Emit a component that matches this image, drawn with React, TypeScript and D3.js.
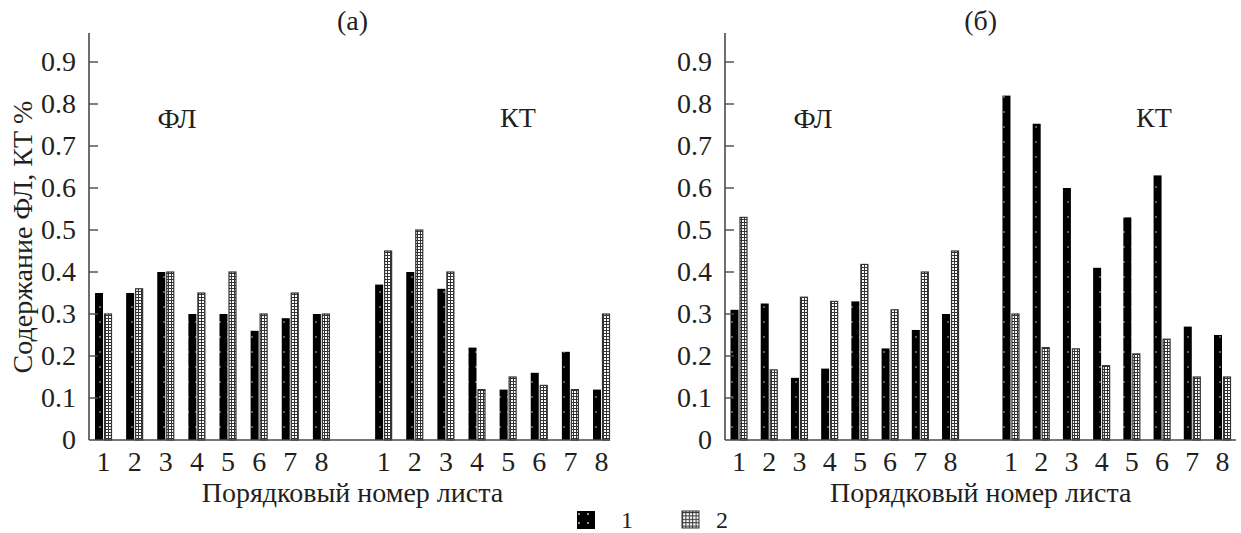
import React from "react";
import { scaleLinear, scalePoint } from "d3";

// leaf numbers along the x axis, repeated for the two substances
const leaves = ["1", "2", "3", "4", "5", "6", "7", "8"];
const yTicks = [0, 0.1, 0.2, 0.3, 0.4, 0.5, 0.6, 0.7, 0.8, 0.9];

// panel (а)
const aFL1 = [0.35, 0.35, 0.4, 0.3, 0.3, 0.26, 0.29, 0.3];
const aFL2 = [0.3, 0.36, 0.4, 0.35, 0.4, 0.3, 0.35, 0.3];
const aKT1 = [0.37, 0.4, 0.36, 0.22, 0.12, 0.16, 0.21, 0.12];
const aKT2 = [0.45, 0.5, 0.4, 0.12, 0.15, 0.13, 0.12, 0.3];

// panel (б)
const bFL1 = [0.31, 0.325, 0.148, 0.17, 0.33, 0.218, 0.262, 0.3];
const bFL2 = [0.53, 0.167, 0.34, 0.33, 0.418, 0.31, 0.4, 0.45];
const bKT1 = [0.82, 0.753, 0.6, 0.41, 0.53, 0.63, 0.27, 0.25];
const bKT2 = [0.3, 0.22, 0.217, 0.177, 0.205, 0.24, 0.15, 0.15];

const FONT = "'Liberation Serif', 'Times New Roman', serif";
const INK = "#231f20";
const AXIS = "#4a4a4a";
const FS = 28;

const slots = [...leaves.map((l) => "ФЛ" + l), "gap", ...leaves.map((l) => "КТ" + l)];

function Panel({ x0, first, last, axisEnd, title, fl1, fl2, kt1, kt2 }) {
  const x = scalePoint().domain(slots).range([first, last]);
  const y = scaleLinear().domain([0, 0.9]).range([440, 62]);
  const bw = 8;
  const rows = [
    ...leaves.map((l, i) => ({ key: "ФЛ" + l, label: l, v1: fl1[i], v2: fl2[i] })),
    ...leaves.map((l, i) => ({ key: "КТ" + l, label: l, v1: kt1[i], v2: kt2[i] })),
  ];
  const mid = (first + last) / 2;
  return (
    <g>
      {rows.map((r) => {
        const cx = x(r.key);
        return (
          <g key={r.key}>
            <rect x={cx - bw - 0.5} y={y(r.v1)} width={bw} height={y(0) - y(r.v1)} fill="url(#dots)" />
            <rect x={cx + 1} y={y(r.v2)} width={bw - 1} height={y(0) - y(r.v2)} fill="url(#grid)" stroke="#333" strokeWidth={1.2} />
            <text x={cx} y={471} textAnchor="middle" fontSize={FS} fill={INK}>{r.label}</text>
          </g>
        );
      })}
      <line x1={x0} x2={x0} y1={33} y2={y(0)} stroke={AXIS} strokeWidth={1.6} />
      <line x1={x0} x2={axisEnd} y1={y(0)} y2={y(0)} stroke={AXIS} strokeWidth={1.6} />
      {yTicks.map((t) => (
        <g key={t}>
          {t > 0 && <line x1={x0} x2={x0 + 9} y1={y(t)} y2={y(t)} stroke={AXIS} strokeWidth={1.4} />}
          <text x={x0 - 13} y={y(t) + 9} textAnchor="end" fontSize={FS} fill={INK}>{t === 0 ? "0" : t.toFixed(1)}</text>
        </g>
      ))}
      <text x={x0 + 88} y={128} textAnchor="middle" fontSize={FS} fill={INK}>ФЛ</text>
      <text x={x0 + 429} y={127} textAnchor="middle" fontSize={FS} fill={INK}>КТ</text>
      <text x={mid} y={30} textAnchor="middle" fontSize={FS} fill={INK}>{title}</text>
      <text x={mid} y={502} textAnchor="middle" fontSize={FS} fill={INK}>Порядковый номер листа</text>
    </g>
  );
}

export default function App() {
  return (
    <svg width={1241} height={533} style={{ position: "absolute", left: 0, top: 0, background: "#fff" }}>
      <defs>
        <pattern id="dots" width={8} height={15} patternUnits="userSpaceOnUse">
          <rect width={8} height={15} fill="#000" />
          <circle cx={4} cy={7} r={0.8} fill="#ccc" />
        </pattern>
        <pattern id="grid" width={3} height={3} patternUnits="userSpaceOnUse">
          <rect width={3} height={3} fill="#fff" />
          <path d="M0 0.5H3M0.5 0V3" stroke="#333" strokeWidth={1} />
        </pattern>
        <pattern id="legdots" width={9} height={9} patternUnits="userSpaceOnUse" x={577} y={512}>
          <rect width={9} height={9} fill="#000" />
          <circle cx={2} cy={2} r={0.9} fill="#ddd" />
        </pattern>
        <pattern id="leggrid" width={3.4} height={3.4} patternUnits="userSpaceOnUse" x={682} y={512}>
          <rect width={3.4} height={3.4} fill="#fff" />
          <path d="M0 0.5H3.4M0.5 0V3.4" stroke="#333" strokeWidth={1} />
        </pattern>
      </defs>
      <g style={{ fontFamily: FONT }}>
        <text transform="translate(32,237) rotate(-90)" textAnchor="middle" fontSize={FS} fill={INK}>Содержание ФЛ, КТ %</text>
        <Panel x0={89} first={103.5} last={601.5} axisEnd={610} title="(а)" fl1={aFL1} fl2={aFL2} kt1={aKT1} kt2={aKT2} />
        <Panel x0={725} first={739} last={1222.5} axisEnd={1236} title="(б)" fl1={bFL1} fl2={bFL2} kt1={bKT1} kt2={bKT2} />
        <rect x={577} y={511} width={18} height={18} fill="url(#legdots)" />
        <text x={627} y={528} textAnchor="middle" fontSize={24} fill={INK}>1</text>
        <rect x={682} y={511} width={17} height={17} fill="url(#leggrid)" stroke="#333" strokeWidth={1} />
        <text x={722} y={528} textAnchor="middle" fontSize={24} fill={INK}>2</text>
      </g>
    </svg>
  );
}
